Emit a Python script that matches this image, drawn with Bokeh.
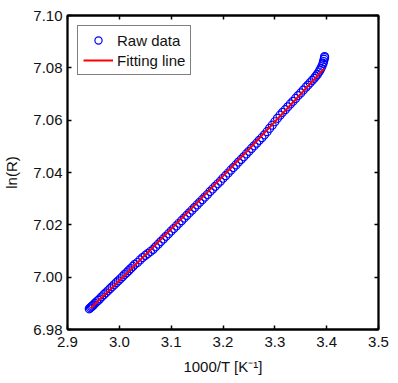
from bokeh.plotting import figure
from bokeh.models import Range1d, FixedTicker, LinearAxis, Legend, LegendItem, PrintfTickFormatter
from bokeh.embed import file_html
from bokeh.resources import INLINE

# Raw data (1000/T in 1/K, ln(R))
raw_x = [2.942, 2.944, 2.946, 2.948, 2.950, 2.953, 2.956, 2.959, 2.962, 2.966,
         2.970, 2.974, 2.978, 2.982, 2.986, 2.990, 2.994, 2.998, 3.002, 3.006,
         3.010, 3.014, 3.018, 3.022, 3.026, 3.030, 3.035, 3.040, 3.045, 3.050,
         3.055, 3.060, 3.065, 3.070, 3.075, 3.080, 3.085, 3.090, 3.095, 3.100,
         3.105, 3.110, 3.115, 3.120, 3.125, 3.130, 3.135, 3.140, 3.145, 3.150,
         3.155, 3.160, 3.165, 3.170, 3.175, 3.180, 3.185, 3.190, 3.195, 3.200,
         3.205, 3.210, 3.215, 3.220, 3.225, 3.230, 3.235, 3.240, 3.245, 3.250,
         3.255, 3.260, 3.265, 3.270, 3.275, 3.280, 3.285, 3.290, 3.295, 3.300,
         3.305, 3.310, 3.315, 3.320, 3.325, 3.330, 3.335, 3.340, 3.345, 3.350,
         3.355, 3.360, 3.364, 3.368, 3.372, 3.376, 3.379, 3.382, 3.385, 3.387,
         3.389, 3.391, 3.393, 3.394, 3.395, 3.396, 3.396]
raw_y = [6.9879, 6.9883, 6.9887, 6.9890, 6.9894, 6.9900, 6.9906, 6.9911, 6.9917, 6.9925,
         6.9933, 6.9940, 6.9948, 6.9956, 6.9963, 6.9971, 6.9979, 6.9986, 6.9994, 7.0002,
         7.0010, 7.0017, 7.0025, 7.0033, 7.0041, 7.0049, 7.0056, 7.0066, 7.0075, 7.0083,
         7.0090, 7.0098, 7.0106, 7.0116, 7.0126, 7.0136, 7.0146, 7.0156, 7.0166, 7.0176,
         7.0186, 7.0196, 7.0206, 7.0216, 7.0226, 7.0236, 7.0246, 7.0256, 7.0266, 7.0276,
         7.0286, 7.0296, 7.0306, 7.0316, 7.0327, 7.0337, 7.0347, 7.0357, 7.0367, 7.0378,
         7.0388, 7.0398, 7.0409, 7.0419, 7.0429, 7.0440, 7.0450, 7.0460, 7.0471, 7.0481,
         7.0492, 7.0502, 7.0512, 7.0523, 7.0533, 7.0544, 7.0556, 7.0569, 7.0581, 7.0594,
         7.0607, 7.0619, 7.0630, 7.0640, 7.0651, 7.0662, 7.0672, 7.0683, 7.0694, 7.0704,
         7.0715, 7.0726, 7.0734, 7.0743, 7.0752, 7.0760, 7.0768, 7.0775, 7.0784, 7.0791,
         7.0798, 7.0807, 7.0817, 7.0824, 7.0832, 7.0839, 7.0843]

# Fitting line
fit_x = [2.945, 3.00, 3.05, 3.10, 3.15, 3.20, 3.25, 3.30, 3.35, 3.395]
fit_y = [6.9882, 6.9987, 7.0085, 7.0184, 7.0284, 7.0386, 7.0489, 7.0594, 7.0700, 7.0797]

x_ticks = [2.9, 3.0, 3.1, 3.2, 3.3, 3.4, 3.5]
y_ticks = [6.98, 7.00, 7.02, 7.04, 7.06, 7.08, 7.10]

FONT = "Liberation Sans"

p = figure(width=398, height=383, output_backend="svg", toolbar_location=None,
           x_range=Range1d(2.9, 3.5), y_range=Range1d(6.98, 7.10),
           min_border_left=65, min_border_right=20, min_border_top=15, min_border_bottom=54,
           background_fill_color="white", border_fill_color="white")
p.grid.visible = False
p.outline_line_color = "black"
p.outline_line_width = 1.8

raw_r = p.scatter(raw_x, raw_y, marker="circle", size=8, fill_color=None,
                  line_color="#0000ff", line_width=1.2)
fit_r = p.line(fit_x, fit_y, line_color="#ff0000", line_width=2)


def style_axis(ax, show_labels=True):
    ax.axis_line_color = "black"
    ax.axis_line_width = 1.8
    ax.major_tick_in = 4
    ax.major_tick_out = 0
    ax.major_tick_line_color = "black"
    ax.major_tick_line_width = 1.5
    ax.minor_tick_line_color = None
    ax.major_label_text_font = FONT
    if show_labels:
        ax.major_label_text_font_size = "15px"
        ax.major_label_text_color = "#111111"
    else:
        ax.major_label_text_font_size = "1px"
        ax.major_label_text_color = None
        ax.major_label_text_alpha = 0
        ax.major_label_standoff = 0


xa = p.xaxis[0]
xa.ticker = FixedTicker(ticks=x_ticks)
xa.formatter = PrintfTickFormatter(format="%.1f")
style_axis(xa)
xa.major_label_standoff = 7
xa.axis_label = "1000/T [K\u207b\u00b9]"
xa.axis_label_text_font = FONT
xa.axis_label_text_font_size = "15px"
xa.axis_label_text_font_style = "normal"
xa.axis_label_text_color = "#111111"
xa.axis_label_standoff = 8

ya = p.yaxis[0]
ya.ticker = FixedTicker(ticks=y_ticks)
ya.formatter = PrintfTickFormatter(format="%.2f")
style_axis(ya)
ya.major_label_standoff = 5
ya.axis_label = "ln(R)"
ya.axis_label_text_font = FONT
ya.axis_label_text_font_size = "15px"
ya.axis_label_text_font_style = "normal"
ya.axis_label_text_color = "#111111"
ya.axis_label_standoff = 10

top = LinearAxis(ticker=FixedTicker(ticks=x_ticks))
style_axis(top, show_labels=False)
p.add_layout(top, "above")
right = LinearAxis(ticker=FixedTicker(ticks=y_ticks))
style_axis(right, show_labels=False)
p.add_layout(right, "right")

legend = Legend(items=[LegendItem(label="Raw data", renderers=[raw_r]),
                       LegendItem(label="Fitting line", renderers=[fit_r])],
                location="top_left")
legend.margin = 10
legend.padding = 5
legend.spacing = 2
legend.glyph_width = 30
legend.glyph_height = 18
legend.label_height = 18
legend.label_standoff = 4
legend.label_text_font = FONT
legend.label_text_font_size = "15px"
legend.label_text_color = "#111111"
legend.border_line_color = "black"
legend.border_line_width = 1.5
legend.background_fill_alpha = 1
p.add_layout(legend, "center")

open("out.html", "w").write(file_html(p, INLINE))
